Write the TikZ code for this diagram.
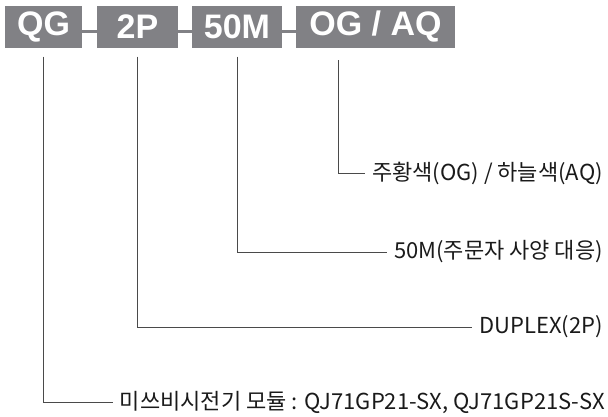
\documentclass[tikz,border=0pt]{standalone}
\usepackage{fontspec}
\setmainfont{Liberation Sans}
\newfontfamily\krfont{Noto Sans CJK KR}
\usetikzlibrary{positioning,calc}
\definecolor{boxgray}{HTML}{818185}
\definecolor{leader}{HTML}{4A4A4A}
\definecolor{ink}{HTML}{1A1A1A}

\begin{document}
\begin{tikzpicture}[x=1pt,y=-1pt,
  codebox/.style={fill=boxgray,text=white,font=\fontsize{34}{34}\selectfont\bfseries,
    inner sep=0pt,minimum height=42pt},
  dashbar/.style={boxgray,line width=3pt},
  leaderline/.style={leader,line width=0.9pt},
  partlabel/.style={anchor=east,text=ink,inner xsep=7pt,inner ysep=2pt,
    font=\krfont\fontsize{22}{24}\selectfont}]
  \useasboundingbox (0,0) rectangle (608,416);

  \node[codebox,minimum width=77pt] (qg) at (43.5,26.5) {QG};
  \node[codebox,minimum width=81pt] (tp) at (137.5,26.5) {2P};
  \node[codebox,minimum width=90pt] (len) at (237,26.5) {50M};
  \node[codebox,minimum width=159pt] (col) at (375.5,26.5) {OG / AQ};

  \draw[dashbar] ([yshift=-5pt]qg.east) -- ([yshift=-5pt]tp.west);
  \draw[dashbar] ([yshift=-5pt]tp.east) -- ([yshift=-5pt]len.west);
  \draw[dashbar] ([yshift=-5pt]len.east) -- ([yshift=-5pt]col.west);

  \node[partlabel] (lcol) at (610,173) {주황색(OG) / 하늘색(AQ)};
  \node[partlabel] (llen) at (610,252) {50M(주문자 사양 대응)};
  \node[partlabel] (ltp) at (610,327) {DUPLEX(2P)};
  \node[partlabel] (lqg) at (612,402) {미쓰비시전기 모듈 : QJ71GP21-SX, QJ71GP21S-SX};

  \coordinate (og) at (338,60);
  \draw[leaderline] (og) |- (lcol.west);
  \draw[leaderline] ([yshift=-9pt]len.south) |- (llen.west);
  \draw[leaderline] ([yshift=-9pt]tp.south) |- (ltp.west);
  \draw[leaderline] ([yshift=-9pt]qg.south) |- (lqg.west);
\end{tikzpicture}
\end{document}
